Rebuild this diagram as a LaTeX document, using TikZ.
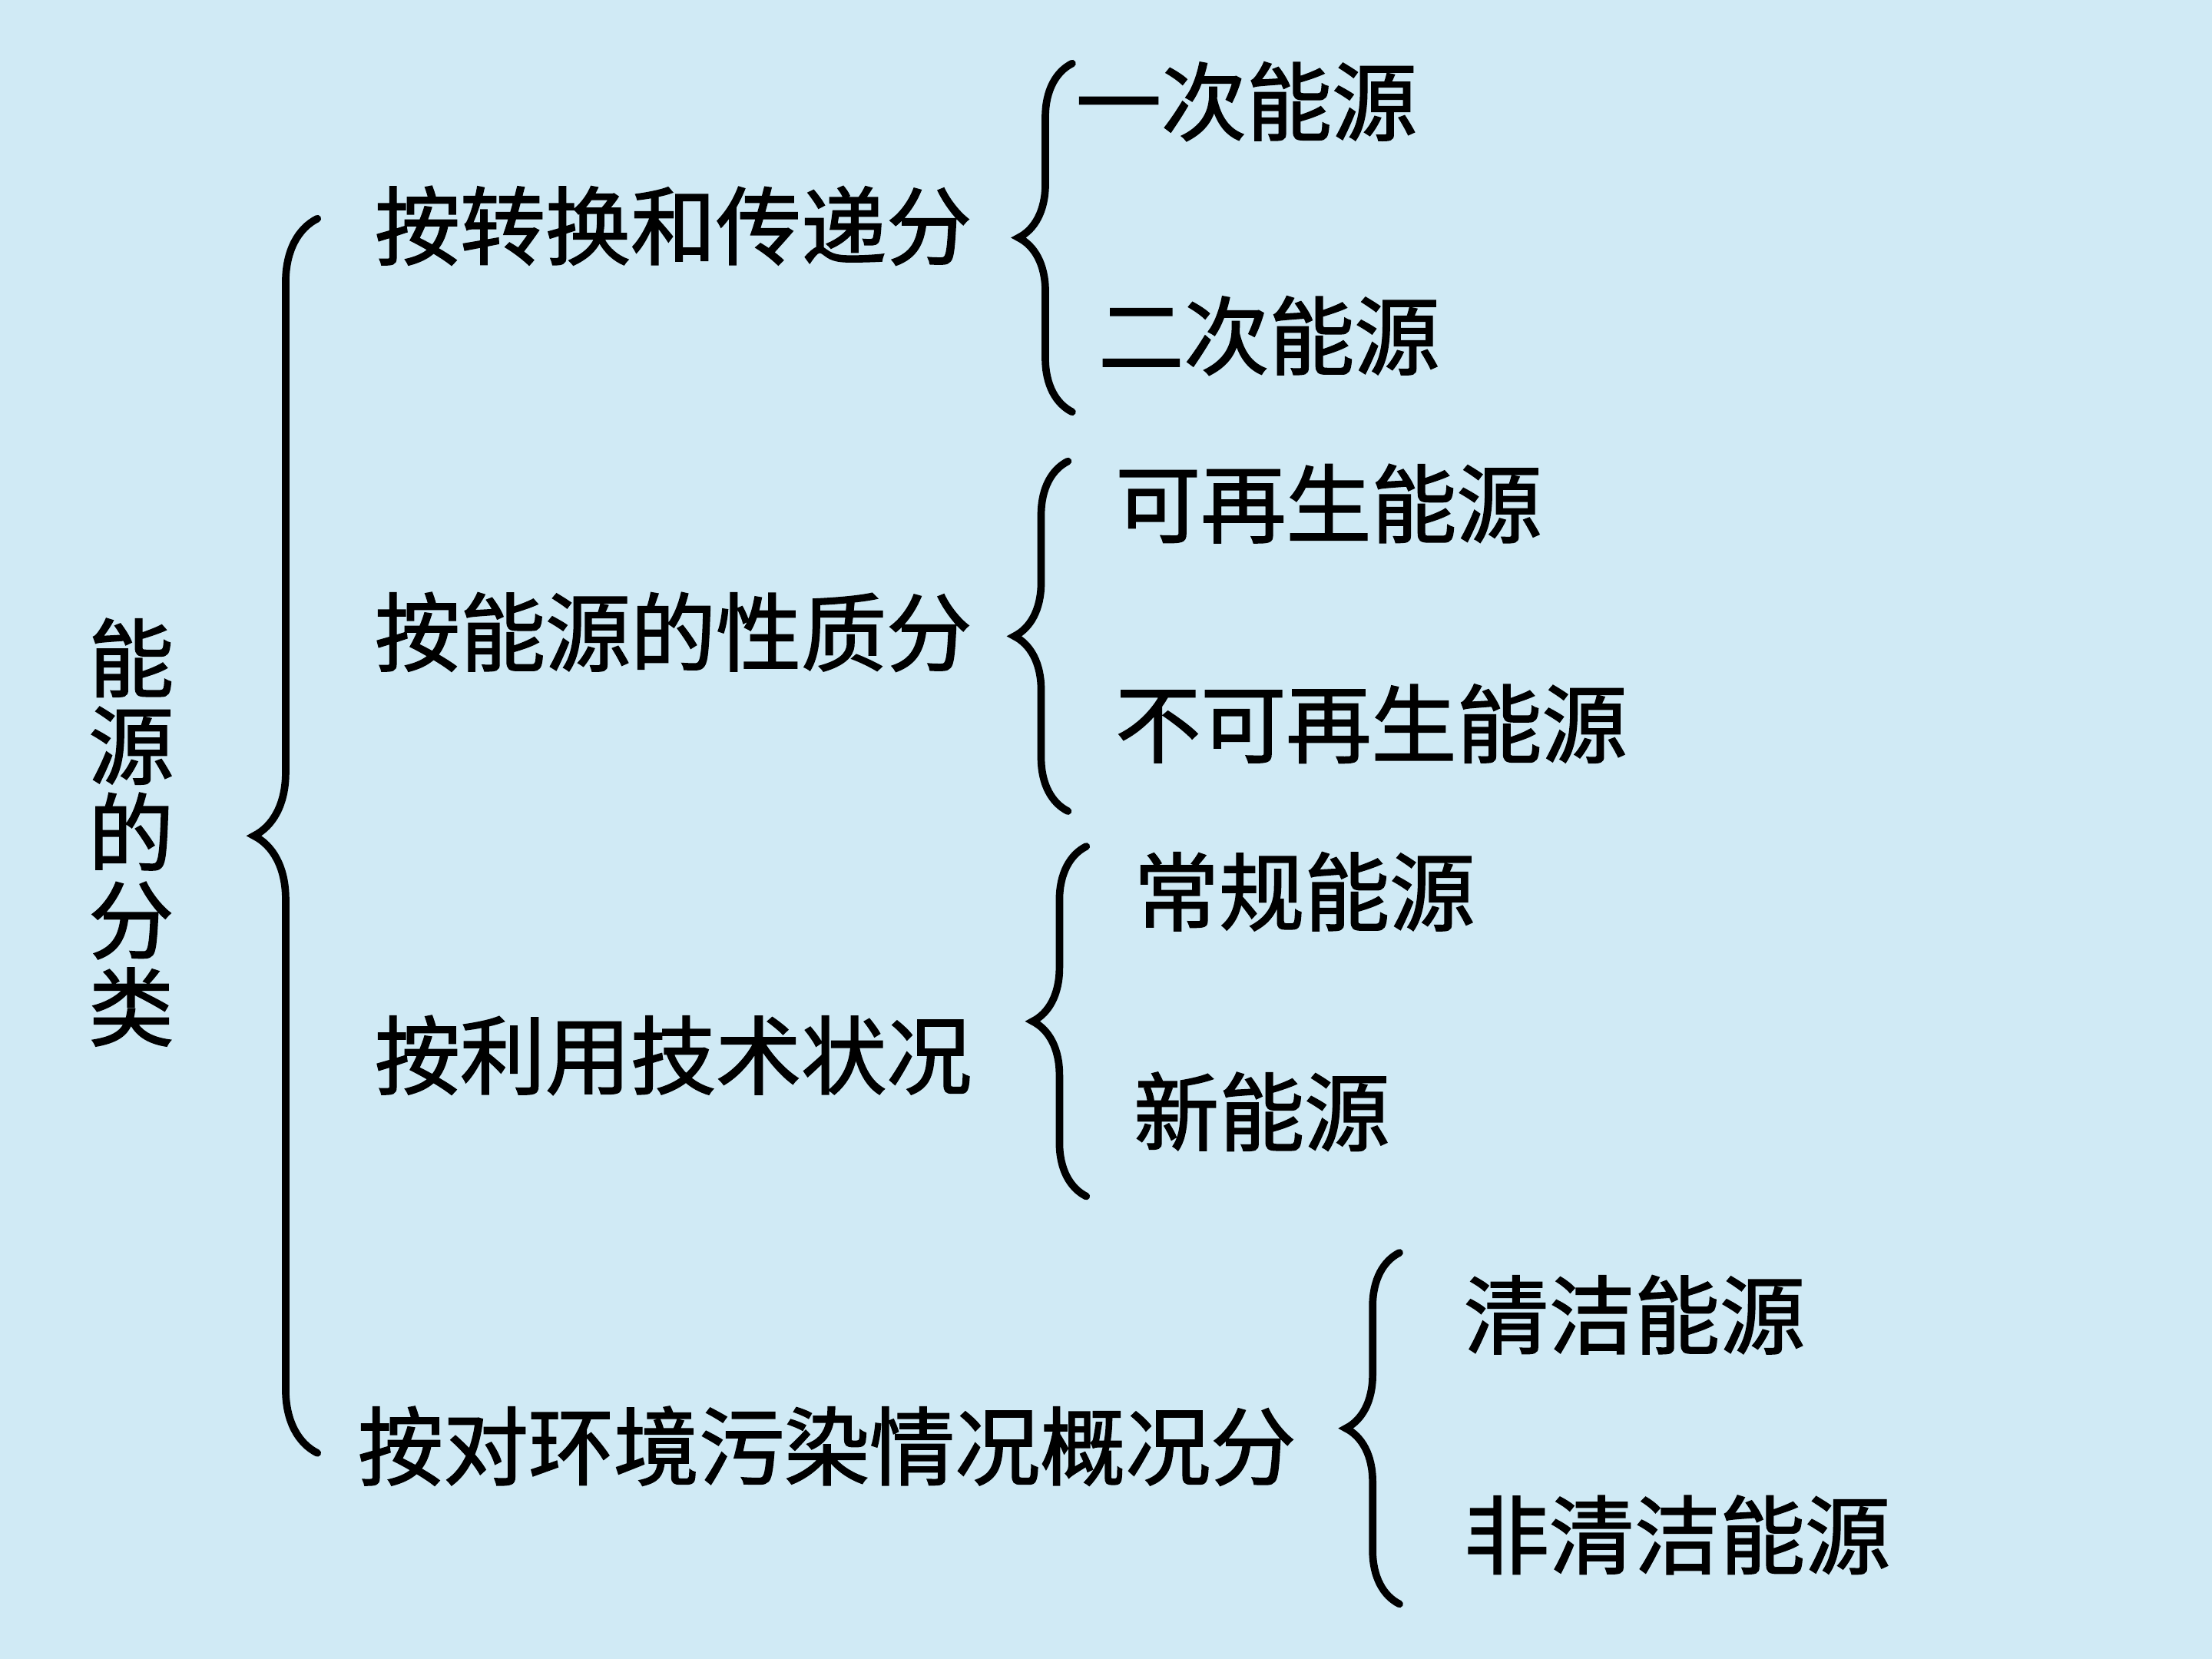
\documentclass[tikz,border=0pt]{standalone}
\usepackage{fontspec}
\usepackage{xcolor}
\usetikzlibrary{decorations.pathreplacing}
\newfontfamily\cjk[FakeBold=1.6]{Noto Sans CJK SC}
\definecolor{slidebg}{RGB}{208,234,245}

\tikzset{
    word/.style={anchor=west, inner sep=0pt, font=\cjk\fontsize{17.2}{17.6}\selectfont},
    curly/.style={line width=1.5pt, line cap=round, decorate, decoration={brace, amplitude=#1}}
}

\begin{document}
\begin{tikzpicture}
    \fill[slidebg] (0,0) rectangle (15.68,-11.76);
    \useasboundingbox (0,0) rectangle (15.68,-11.76);

    \node[word, anchor=center, align=center] (title) at (0.93,-5.9) {能\\源\\的\\分\\类};

    \node[word] (byform) at (2.65,-1.60) {按转换和传递分};
    \node[word] (bynature) at (2.65,-4.48) {按能源的性质分};
    \node[word] (bytech) at (2.65,-7.48) {按利用技术状况};
    \node[word] (byenv) at (2.53,-10.25) {按对环境污染情况概况分};

    \node[word] (primary) at (7.62,-0.72) {一次能源};
    \node[word] (secondary) at (7.78,-2.38) {二次能源};
    \node[word] (renew) at (7.90,-3.57) {可再生能源};
    \node[word] (nonrenew) at (7.90,-5.13) {不可再生能源};
    \node[word] (conv) at (8.03,-6.32) {常规能源};
    \node[word] (new) at (8.03,-7.88) {新能源};
    \node[word] (clean) at (10.37,-9.32) {清洁能源};
    \node[word] (dirty) at (10.37,-10.88) {非清洁能源};

    % brace ends
    \coordinate (bigtop) at (2.25,-1.55);
    \coordinate (bigbot) at (2.25,-10.30);
    \coordinate (formtop) at (7.60,-0.45);
    \coordinate (formbot) at (7.60,-2.92);
    \coordinate (naturetop) at (7.57,-3.27);
    \coordinate (naturebot) at (7.57,-5.75);
    \coordinate (techtop) at (7.70,-6.00);
    \coordinate (techbot) at (7.70,-8.48);
    \coordinate (envtop) at (9.92,-8.88);
    \coordinate (envbot) at (9.92,-11.37);

    \draw[curly=0.45cm] (bigbot) -- (bigtop);
    \draw[curly=0.38cm] (formbot) -- (formtop);
    \draw[curly=0.38cm] (naturebot) -- (naturetop);
    \draw[curly=0.38cm] (techbot) -- (techtop);
    \draw[curly=0.38cm] (envbot) -- (envtop);
\end{tikzpicture}
\end{document}
